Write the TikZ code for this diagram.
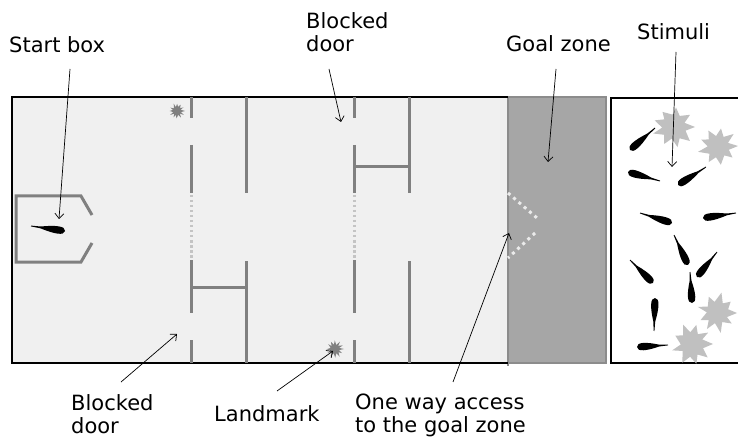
\documentclass[tikz,border=0pt]{standalone}
\usepackage{fontspec}
\setmainfont{DejaVu Sans}
\usepackage{tikz}
\usetikzlibrary{arrows.meta}

\definecolor{floorgrey}{HTML}{F0F0F0}
\definecolor{wallgrey}{HTML}{808080}
\definecolor{goalgrey}{HTML}{A6A6A6}
\definecolor{goaledge}{HTML}{8C8C8C}
\definecolor{doorgrey}{HTML}{C4C4C4}
\definecolor{stimgrey}{HTML}{C0C0C0}

\tikzset{
  wall/.style={draw=wallgrey, line width=3pt},
  blocked/.style={draw=doorgrey, line width=3pt, dash pattern=on 2.5pt off 2.5pt},
  oneway/.style={draw=white!92!black, line width=3pt, dash pattern=on 3pt off 4pt},
  lbl/.style={inner sep=0pt, anchor=base west, align=left, font=\fontsize{21}{23}\selectfont},
  pointer/.style={draw=black, line width=0.7pt, -{Straight Barb[length=5pt,width=9pt]}},
}

% fish from head (#1,#2) back to tail (#3,#4)
\newcommand{\fishat}[4]{%
  \pgfmathsetmacro\fishang{atan2(#4-#2,#1-#3)}%
  \pgfmathsetmacro\fishlen{veclen(#1-#3,#2-#4)}%
  \fill[black, shift={(#1,#2)}, rotate=\fishang, xscale=\fishlen]
    (0,0) .. controls (0,5) and (-0.3,4.5) .. (-0.72,0.9) -- (-1,0.4)
    -- (-1,-0.4) -- (-0.72,-0.9) .. controls (-0.3,-4.5) and (0,-5) .. cycle;}

% ragged star: centre (#1,#2), inner/outer radius #3/#4, spikes #5, seed #6, colour #7
\newcommand{\burstat}[7]{%
  \pgfmathsetseed{#6}%
  \pgfmathtruncatemacro\burstlast{2*#5-1}%
  \fill[#7, shift={(#1,#2)}] (0:#4)
    \foreach \k in {1,...,\burstlast}{
      -- ({\k*180/#5+0.2*180/#5*rand}:{ifthenelse(isodd(\k),#3*(1+0.08*rand),#4*(0.95+0.1*rand))})
    } -- cycle;}

\begin{document}
\begin{tikzpicture}[x=1pt,y=-1pt]
  \clip (0,0) rectangle (738,446);

  % arena
  \fill[floorgrey] (12,97) rectangle (508,363);
  \filldraw[fill=goalgrey, draw=goaledge, line width=2pt] (508,97) rectangle (606,363);
  \draw[goaledge, line width=2pt] (508,97) -- (508,366);
  \draw[black, line width=1.6pt] (508,97) -- (12,97) -- (12,363) -- (508,363);
  \filldraw[fill=white, draw=black, line width=1.6pt] (611,98) rectangle (760,363);

  % partitions
  \foreach \wx in {191,354}{
    \draw[wall] (\wx,97) -- (\wx,118);
    \draw[wall] (\wx,145) -- (\wx,193);
    \draw[wall] (\wx,260) -- (\wx,313);
    \draw[wall] (\wx,340) -- (\wx,363);
    \draw[blocked] (\wx,195) -- (\wx,259);
  }
  \foreach \wx in {246,409}{
    \draw[wall] (\wx,97) -- (\wx,193);
    \draw[wall] (\wx,261) -- (\wx,363);
  }
  \draw[wall] (191,287) -- (246,287);
  \draw[wall] (354,167) -- (409,167);

  % start box
  \draw[wall] (92,215) -- (81,196) -- (16,196) -- (16,262) -- (81,262) -- (92,243);
  \fishat{65}{231}{31}{226}

  % one way access
  \draw[oneway] (508,193) -- (537,218);
  \draw[oneway] (535,233) -- (508,258);

  % landmarks
  \burstat{177}{111}{4}{8}{12}{7}{wallgrey}
  \burstat{335}{349}{4.5}{9}{12}{23}{wallgrey}

  % stimuli
  \burstat{674}{127}{12}{21}{9}{11}{stimgrey}
  \burstat{718}{146}{11}{20}{9}{41}{stimgrey}
  \burstat{717}{313}{11}{20}{9}{57}{stimgrey}
  \burstat{692}{344}{12}{21}{9}{83}{stimgrey}
  \foreach \hx/\hy/\tx/\ty in {630/150/655/128, 628/172/660/181, 678/185/706/167,
      672/223/640/213, 703/218/736/213, 688/265/674/235, 653/283/630/260,
      697/277/717/252, 692/303/690/272, 655/298/654/331, 637/347/668/345}{
    \fishat{\hx}{\hy}{\tx}{\ty}
  }

  % labels
  \node[lbl] (startlbl) at (9,53) {Start box};
  \node[lbl] (doortoplbl) at (306,52) {Blocked\\door};
  \node[lbl] (goallbl) at (506,52) {Goal zone};
  \node[lbl] (stimlbl) at (637,40) {Stimuli};
  \node[lbl] (doorbotlbl) at (71,433) {Blocked\\door};
  \node[lbl] (marklbl) at (214,421) {Landmark};
  \node[lbl] (onewaylbl) at (355,432) {One way access\\to the goal zone};

  \coordinate (startTail) at (70,69);   \coordinate (startTip) at (59,219);
  \coordinate (doortopTail) at (329,69); \coordinate (doortopTip) at (341,122);
  \coordinate (goalTail) at (556,69);   \coordinate (goalTip) at (548,162);
  \coordinate (stimTail) at (676,52);   \coordinate (stimTip) at (672,167);
  \coordinate (doorbotTail) at (121,382); \coordinate (doorbotTip) at (177,334);
  \coordinate (markTail) at (277,391);  \coordinate (markTip) at (333,351);
  \coordinate (onewayTail) at (453,382); \coordinate (onewayTip) at (509,233);

  \draw[pointer] (startTail) -- (startTip);
  \draw[pointer] (doortopTail) -- (doortopTip);
  \draw[pointer] (goalTail) -- (goalTip);
  \draw[pointer] (stimTail) -- (stimTip);
  \draw[pointer] (doorbotTail) -- (doorbotTip);
  \draw[pointer] (markTail) -- (markTip);
  \draw[pointer] (onewayTail) -- (onewayTip);
\end{tikzpicture}
\end{document}
